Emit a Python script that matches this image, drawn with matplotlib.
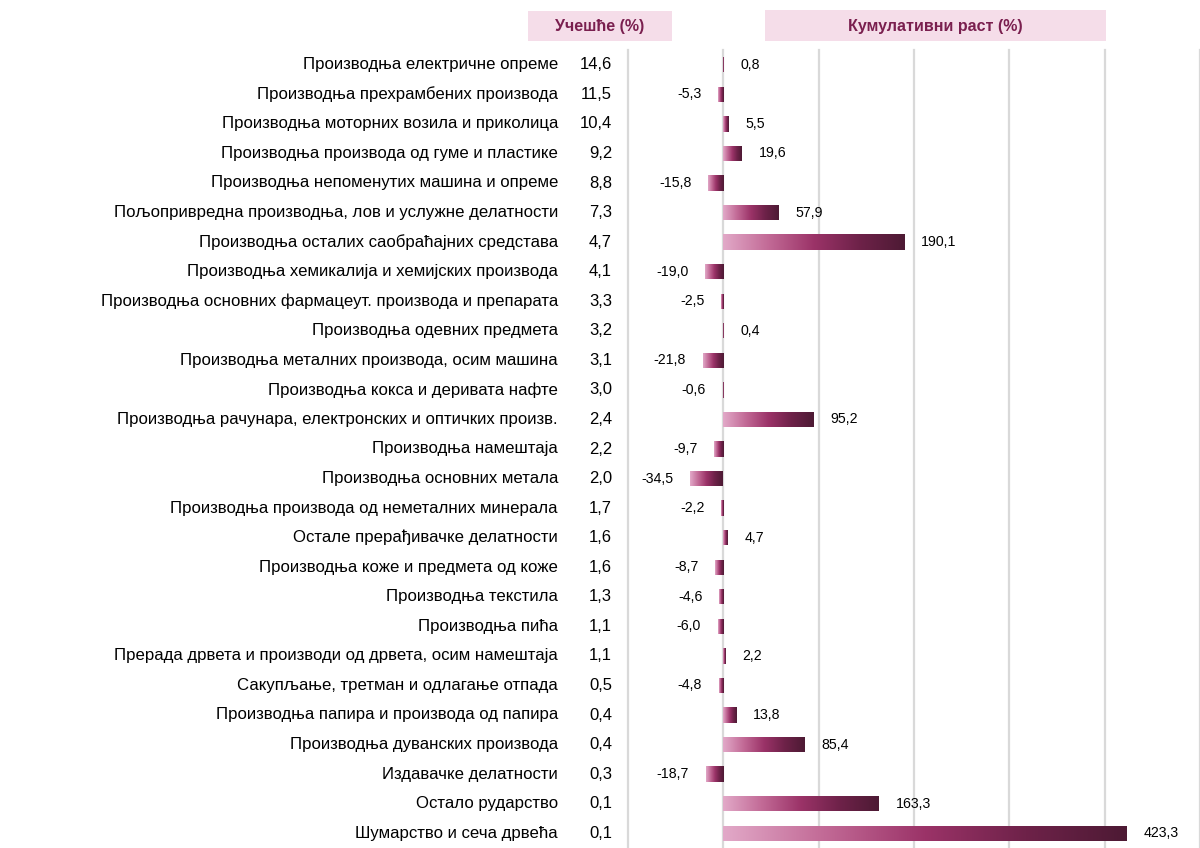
import numpy as np
import matplotlib
matplotlib.use('Agg')
from matplotlib import pyplot as plt
from matplotlib.colors import LinearSegmentedColormap
from matplotlib.patches import Rectangle

plt.rcParams['font.family'] = ['Liberation Sans', 'DejaVu Sans']

categories = [
    "Производња електричне опреме",
    "Производња прехрамбених производа",
    "Производња моторних возила и приколица",
    "Производња производа од гуме и пластике",
    "Производња непоменутих машина и опреме",
    "Пољопривредна производња, лов и услужне делатности",
    "Производња осталих саобраћајних средстава",
    "Производња хемикалија и хемијских производа",
    "Производња основних фармацеут. производа и препарата",
    "Производња одевних предмета",
    "Производња металних производа, осим машина",
    "Производња кокса и деривата нафте",
    "Производња рачунара, електронских и оптичких произв.",
    "Производња намештаја",
    "Производња основних метала",
    "Производња производа од неметалних минерала",
    "Остале прерађивачке делатности",
    "Производња коже и предмета од коже",
    "Производња текстила",
    "Производња пића",
    "Прерада дрвета и производи од дрвета, осим намештаја",
    "Сакупљање, третман и одлагање отпада",
    "Производња папира и производа од папира",
    "Производња дуванских производа",
    "Издавачке делатности",
    "Остало рударство",
    "Шумарство и сеча дрвећа",
]
share = [14.6, 11.5, 10.4, 9.2, 8.8, 7.3, 4.7, 4.1, 3.3, 3.2, 3.1, 3.0, 2.4,
         2.2, 2.0, 1.7, 1.6, 1.6, 1.3, 1.1, 1.1, 0.5, 0.4, 0.4, 0.3, 0.1, 0.1]
growth = [0.8, -5.3, 5.5, 19.6, -15.8, 57.9, 190.1, -19.0, -2.5, 0.4, -21.8,
          -0.6, 95.2, -9.7, -34.5, -2.2, 4.7, -8.7, -4.6, -6.0, 2.2, -4.8,
          13.8, 85.4, -18.7, 163.3, 423.3]

def fmt(v):
    return f"{v:.1f}".replace('.', ',')

W, H = 1200, 848
fig = plt.figure(figsize=(W / 100, H / 100), dpi=100)

ax = fig.add_axes([628 / W, 0, 1 - 628 / W, 1 - 50 / H])
n = len(categories)
y = np.arange(n)
ax.set_xlim(-100, 500)
ax.set_ylim(n - 0.5, -0.5)

cmap = LinearSegmentedColormap.from_list(
    'wine', ['#e2a9c8', '#c26a96', '#9b3368', '#6e2249', '#4d1a34'])
grad = np.linspace(0, 1, 256).reshape(1, -1)

bars = ax.barh(y, growth, height=0.52, color='none', edgecolor='none', zorder=3)
for b in bars:
    x0, yb = b.get_x(), b.get_y()
    w, h = b.get_width(), b.get_height()
    lo, hi = min(x0, x0 + w), max(x0, x0 + w)
    im = ax.imshow(grad, cmap=cmap, aspect='auto', extent=(lo, hi, yb + h, yb),
                   zorder=3, interpolation='bilinear')
    im.set_clip_path(b)

for xv in range(-100, 501, 100):
    ax.axvline(xv, color='#d9d9d9', lw=1.6, zorder=1, clip_on=False)

for yi, v in zip(y, growth):
    if v >= 0:
        ax.annotate(fmt(v), (v, yi), xytext=(12, 0), textcoords='offset points',
                    ha='left', va='center', fontsize=10.2, color='#000000')
    else:
        ax.annotate(fmt(v), (v, yi), xytext=(-12, 0), textcoords='offset points',
                    ha='right', va='center', fontsize=10.2, color='#000000')

ax.axis('off')

# left text columns
trans = ax.get_yaxis_transform()
for yi, c in zip(y, categories):
    ax.text(-70 / (W - 628), yi, c, transform=trans, ha='right', va='center',
            fontsize=12.1, clip_on=False)
for yi, s in zip(y, share):
    ax.text(-16 / (W - 628), yi, fmt(s), transform=trans, ha='right',
            va='center', fontsize=12, clip_on=False)

# header boxes
hdr_face = '#f5dde9'
hdr_col = '#7a1f4f'
fig.patches.append(Rectangle((528 / W, 1 - 41 / H), 144 / W, 30 / H,
                             transform=fig.transFigure, facecolor=hdr_face,
                             edgecolor='none'))
fig.patches.append(Rectangle((765 / W, 1 - 41 / H), 341 / W, 31 / H,
                             transform=fig.transFigure, facecolor=hdr_face,
                             edgecolor='none'))
fig.text(600 / W, 1 - 27 / H, 'Учешће (%)', ha='center', va='center',
         fontsize=11.5, fontweight='bold', color=hdr_col)
fig.text(935 / W, 1 - 27 / H, 'Кумулативни раст (%)', ha='center', va='center',
         fontsize=11.5, fontweight='bold', color=hdr_col)

fig.savefig('out.png', dpi=100, facecolor='white')
